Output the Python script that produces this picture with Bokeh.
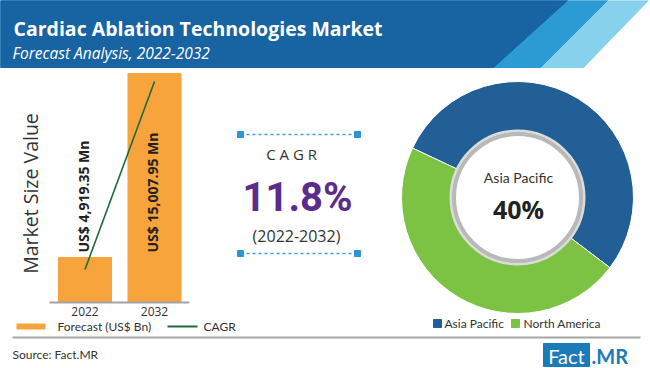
import numpy as np
from bokeh.plotting import figure
from bokeh.models import Range1d, LogScale
from bokeh.core.properties import value
from bokeh.embed import file_html
from bokeh.resources import INLINE

# ---------------- data ----------------
years = ["2022", "2032"]
market_values = [4919.35, 15007.95]
value_labels = ["US$ 4,919.35 Mn", "US$ 15,007.95 Mn"]
cagr_line = [4574.0, 14297.0]
regions = ["Asia Pacific", "North America"]
region_shares = [40, 35]
cagr_value = "11.8%"
cagr_period = "(2022-2032)"
highlight_region = "Asia Pacific"
highlight_share = "40%"

# ---------------- styles ----------------
ORANGE = "#f7a43c"
LINE_GREEN = "#1d6b3d"
DONUT_COLORS = ["#215f96", "#7cc243"]
HEADER_DARK = "#1863a2"
HEADER_MID = "#2c9bd4"
HEADER_LIGHT = "#88d1ed"
PURPLE = "#5c2c8d"
TXT = "#333333"
F_MAIN = value("Open Sans")
F_SMALL = value("Lato")

W, H = 650, 368
p = figure(width=W, height=H, x_range=Range1d(0, W), y_range=Range1d(H, 0),
           output_backend="svg", toolbar_location=None, min_border=0,
           x_axis_location=None, y_axis_location=None,
           outline_line_color=None, background_fill_color="white",
           border_fill_color="white")
p.grid.grid_line_color = None

# ---------------- header ----------------
p.patch([0, 648, 583, 0], [0, 0, 67, 67], color=HEADER_LIGHT)
p.patch([0, 607, 540, 0], [0, 0, 67, 67], color=HEADER_MID)
p.patch([0, 567, 493, 0], [0, 0, 67, 67], color=HEADER_DARK)
p.text([13], [28], text=["Cardiac Ablation Technologies Market"], text_color="white",
       text_font=F_MAIN, text_font_style="bold", text_font_size="19.5px",
       text_baseline="alphabetic")
p.text([12], [52], text=["Forecast Analysis, 2022-2032"], text_color="white",
       text_font=F_MAIN, text_font_style="italic", text_font_size="15.5px",
       text_baseline="alphabetic")

# ---------------- bar chart (own ranges) ----------------
idx = np.arange(len(years))
p.extra_x_ranges = {"bx": Range1d(-1.2158, 8.1367)}
p.extra_y_ranges = {"by": Range1d(2509.8, 23362.0)}
p.extra_y_scales = {"by": LogScale()}
bar_base = 3744.6

p.text([30], [193], text=["Market Size Value"], angle=np.pi / 2, text_align="center",
       text_baseline="middle", text_font=F_MAIN, text_font_size="19.5px",
       text_color=TXT)

p.vbar(x=idx, top=market_values, bottom=bar_base, width=0.763, color=ORANGE,
       x_range_name="bx", y_range_name="by")
p.segment(x0=[-0.51], y0=[bar_base], x1=[1.5], y1=[bar_base], line_color="#a3a3a3",
          line_width=2, x_range_name="bx", y_range_name="by")
p.line(idx, cagr_line, line_color=LINE_GREEN, line_width=1.6,
       x_range_name="bx", y_range_name="by")
p.text(idx, [bar_base] * len(idx), text=value_labels, angle=np.pi / 2,
       text_align="left", text_baseline="middle", y_offset=-50, x_offset=-1.5,
       text_font=F_MAIN, text_font_style="bold", text_font_size="14px",
       text_color="#222222", x_range_name="bx", y_range_name="by")
p.text(idx, [bar_base] * len(idx), text=years, text_align="center",
       text_baseline="middle", y_offset=9, text_font=F_MAIN,
       text_font_size="12px", text_color=TXT, x_range_name="bx", y_range_name="by")

# bar legend
p.segment([16], [326], [45], [326], line_color=ORANGE, line_width=6)
p.text([57], [326], text=["Forecast (US$ Bn)"], text_baseline="middle",
       text_font=F_SMALL, text_font_size="12px", text_color=TXT)
p.segment([167], [326], [197], [326], line_color=LINE_GREEN, line_width=2)
p.text([203], [326], text=["CAGR"], text_baseline="middle",
       text_font=F_SMALL, text_font_size="12px", text_color=TXT)

# ---------------- CAGR block ----------------
p.segment([240, 240], [134, 253], [357, 357], [134, 253], line_color="#3aa0d8",
          line_width=1.3, line_dash="3 3")
p.scatter([240, 357, 240, 357], [134, 134, 253, 253], marker="square", size=6,
          color="#2b96d2")
p.text([297], [153], text=["C  A  G  R"], text_align="center", text_baseline="middle",
       text_font=F_MAIN, text_font_size="15px", text_color=TXT)
p.text([297], [197], text=[cagr_value], text_align="center", text_baseline="middle",
       text_font=value("Roboto"), text_font_style="bold", text_font_size="40px",
       text_color=PURPLE)
p.text([296], [235], text=[cagr_period], text_align="center", text_baseline="middle",
       text_font=F_MAIN, text_font_size="16px", text_color=TXT)

# ---------------- donut ----------------
cx, cy = 517, 197
shares = np.array(region_shares, dtype=float)
ang = np.cumsum(np.concatenate([[0.0], shares / shares.sum() * 2 * np.pi]))
start_off = np.deg2rad(-37.2)
p.annular_wedge(x=cx, y=cy, inner_radius=63, outer_radius=116,
                inner_radius_units="screen", outer_radius_units="screen",
                start_angle=ang[:-1] + start_off, end_angle=ang[1:] + start_off,
                fill_color=DONUT_COLORS, line_color="white", line_width=1)
p.scatter([cx], [cy], size=133, marker="circle", fill_color=None,
          line_color="#dcdcdc", line_width=3)
p.scatter([cx], [cy], size=127, marker="circle", fill_color="white",
          line_color="#b9b9b9", line_width=4)
p.text([cx + 1], [177], text=[highlight_region], text_align="center",
       text_baseline="middle", text_font=F_SMALL, text_font_size="14px",
       text_color=TXT)
p.text([cx + 1], [208], text=[highlight_share], text_align="center",
       text_baseline="middle", text_font=F_MAIN, text_font_style="bold",
       text_font_size="25px", text_color="#222222")

# donut legend
p.scatter([437, 515], [323, 323], marker="square", size=8, color=DONUT_COLORS)
p.text([444, 523], [323, 323], text=regions, text_baseline="middle",
       text_font=F_SMALL, text_font_size="12px", text_color=TXT)

# ---------------- footer ----------------
p.segment([12], [337], [640], [337], line_color="#a6a6a6", line_width=2)
p.text([12], [354], text=["Source: Fact.MR"], text_baseline="middle",
       text_font=F_SMALL, text_font_size="12px", text_color=TXT)
p.quad(left=[543], right=[589], top=[343], bottom=[366], color="#1b7bb8")
p.text([566], [355], text=["Fact"], text_align="center", text_baseline="middle",
       text_font=F_SMALL, text_font_size="20px", text_color="white")
p.text([591], [355], text=[".MR"], text_baseline="middle", text_font=F_SMALL,
       text_font_style="bold", text_font_size="20px", text_color="#1b7bb8")

open("out.html", "w").write(file_html(p, INLINE))
